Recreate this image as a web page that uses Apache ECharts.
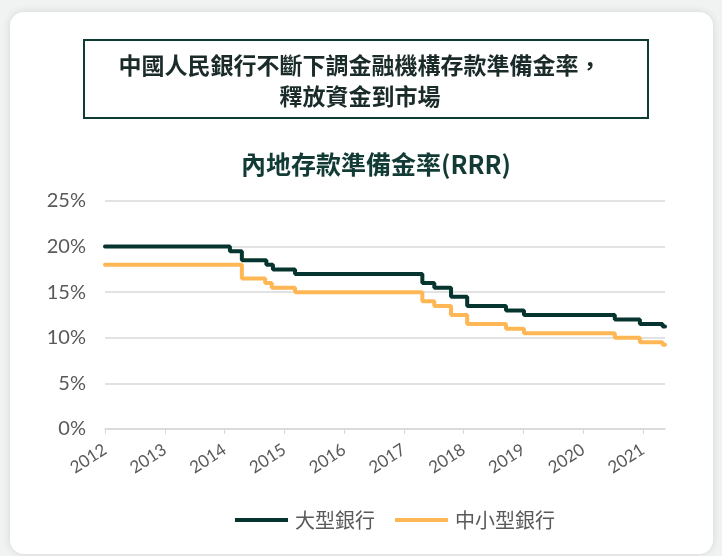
<!DOCTYPE html>
<html>
<head>
<meta charset="utf-8">
<script src="https://cdn.jsdelivr.net/npm/echarts@6/dist/echarts.min.js"></script>
<style>
  html, body { margin: 0; padding: 0; background: #f1f3f3; }
  #card {
    position: absolute; left: 10px; top: 12px; width: 703px; height: 542px;
    background: #fff; border-radius: 14px;
    box-shadow: 0 0 8px rgba(0, 0, 0, 0.12);
  }
  #main { position: absolute; left: 0; top: 0; width: 722px; height: 556px; }
</style>
</head>
<body>
<div id="card"></div>
<div id="main"></div>
<script>
// 年份刻度
const yearTicks = ["2012", "2013", "2014", "2015", "2016", "2017", "2018", "2019", "2020", "2021"];

// 調整日期（以年份小數表示）
const largeDates = [2012, 2014.09, 2014.29, 2014.70, 2014.81, 2015.18, 2017.31, 2017.51, 2017.79, 2018.06, 2018.71, 2019.01, 2020.53, 2020.95, 2021.33, 2021.37];
const largeRates = [20, 19.5, 18.5, 18, 17.5, 17, 16, 15.5, 14.5, 13.5, 13, 12.5, 12, 11.5, 11.25, 11.25];

const smallDates = [2012, 2014.29, 2014.68, 2014.79, 2015.18, 2017.31, 2017.51, 2017.79, 2018.06, 2018.71, 2019.01, 2020.53, 2020.95, 2021.33, 2021.37];
const smallRates = [18, 16.5, 16, 15.5, 15, 14, 13.5, 12.5, 11.5, 11, 10.5, 10, 9.5, 9.25, 9.25];

const seriesNames = ["大型銀行", "中小型銀行"];
const colors = ["#06352f", "#ffb655"];

const chart = echarts.init(document.getElementById("main"), null, { renderer: "canvas" });

const labelFont = "Lato, 'Noto Sans', sans-serif";

const option = {
  animation: false,
  color: colors,
  title: {
    text: "內地存款準備金率(RRR)",
    left: 236,
    top: 147,
    textStyle: {
      fontFamily: "'Noto Sans CJK TC', sans-serif",
      fontSize: 25,
      fontWeight: "bold",
      color: "#133b35"
    }
  },
  graphic: [
    {
      type: "rect",
      shape: { x: 84, y: 40, width: 564, height: 78 },
      style: { fill: "#fff", stroke: "#0f3b35", lineWidth: 2 }
    },
    {
      type: "text",
      x: 360,
      y: 81,
      style: {
        text: "中國人民銀行不斷下調金融機構存款準備金率，\n釋放資金到市場",
        align: "center",
        verticalAlign: "middle",
        lineHeight: 31,
        font: "bold 23px 'Noto Sans CJK TC', sans-serif",
        fill: "#1b2b2a"
      }
    }
  ],
  legend: {
    left: 230,
    top: 505,
    itemWidth: 53,
    itemHeight: 4,
    itemGap: 20,
    icon: "rect",
    textStyle: {
      fontFamily: "'Noto Sans CJK TC', sans-serif",
      fontSize: 20,
      color: "#595959",
      padding: [0, 0, 0, 2]
    },
    data: seriesNames
  },
  grid: { left: 105, right: 57, top: 201, bottom: 127 },
  xAxis: {
    type: "value",
    min: 2012,
    max: 2021.37,
    interval: 1,
    axisLine: { show: true, lineStyle: { color: "#d9d9d9", width: 1.5 } },
    axisTick: { show: true, length: 5, lineStyle: { color: "#d9d9d9" } },
    splitLine: { show: false },
    axisLabel: {
      rotate: 33,
      fontFamily: labelFont,
      fontSize: 17,
      color: "#595959",
      margin: 19,
      showMaxLabel: false,
      formatter: v => yearTicks[Math.round(v - 2012)] || ""
    }
  },
  yAxis: {
    type: "value",
    min: 0,
    max: 25,
    interval: 5,
    axisLine: { show: false },
    axisTick: { show: false },
    splitLine: { lineStyle: { color: "#d9d9d9", width: 1.5 } },
    axisLabel: {
      fontFamily: labelFont,
      fontSize: 20,
      color: "#595959",
      margin: 19,
      formatter: "{value}%"
    }
  },
  series: [
    {
      name: seriesNames[0],
      type: "line",
      step: "end",
      showSymbol: false,
      lineStyle: { width: 4, color: colors[0], cap: "round" },
      data: largeDates.map((d, i) => [d, largeRates[i]])
    },
    {
      name: seriesNames[1],
      type: "line",
      step: "end",
      showSymbol: false,
      lineStyle: { width: 4, color: colors[1], cap: "round" },
      data: smallDates.map((d, i) => [d, smallRates[i]])
    }
  ]
};

chart.setOption(option);
</script>
</body>
</html>
